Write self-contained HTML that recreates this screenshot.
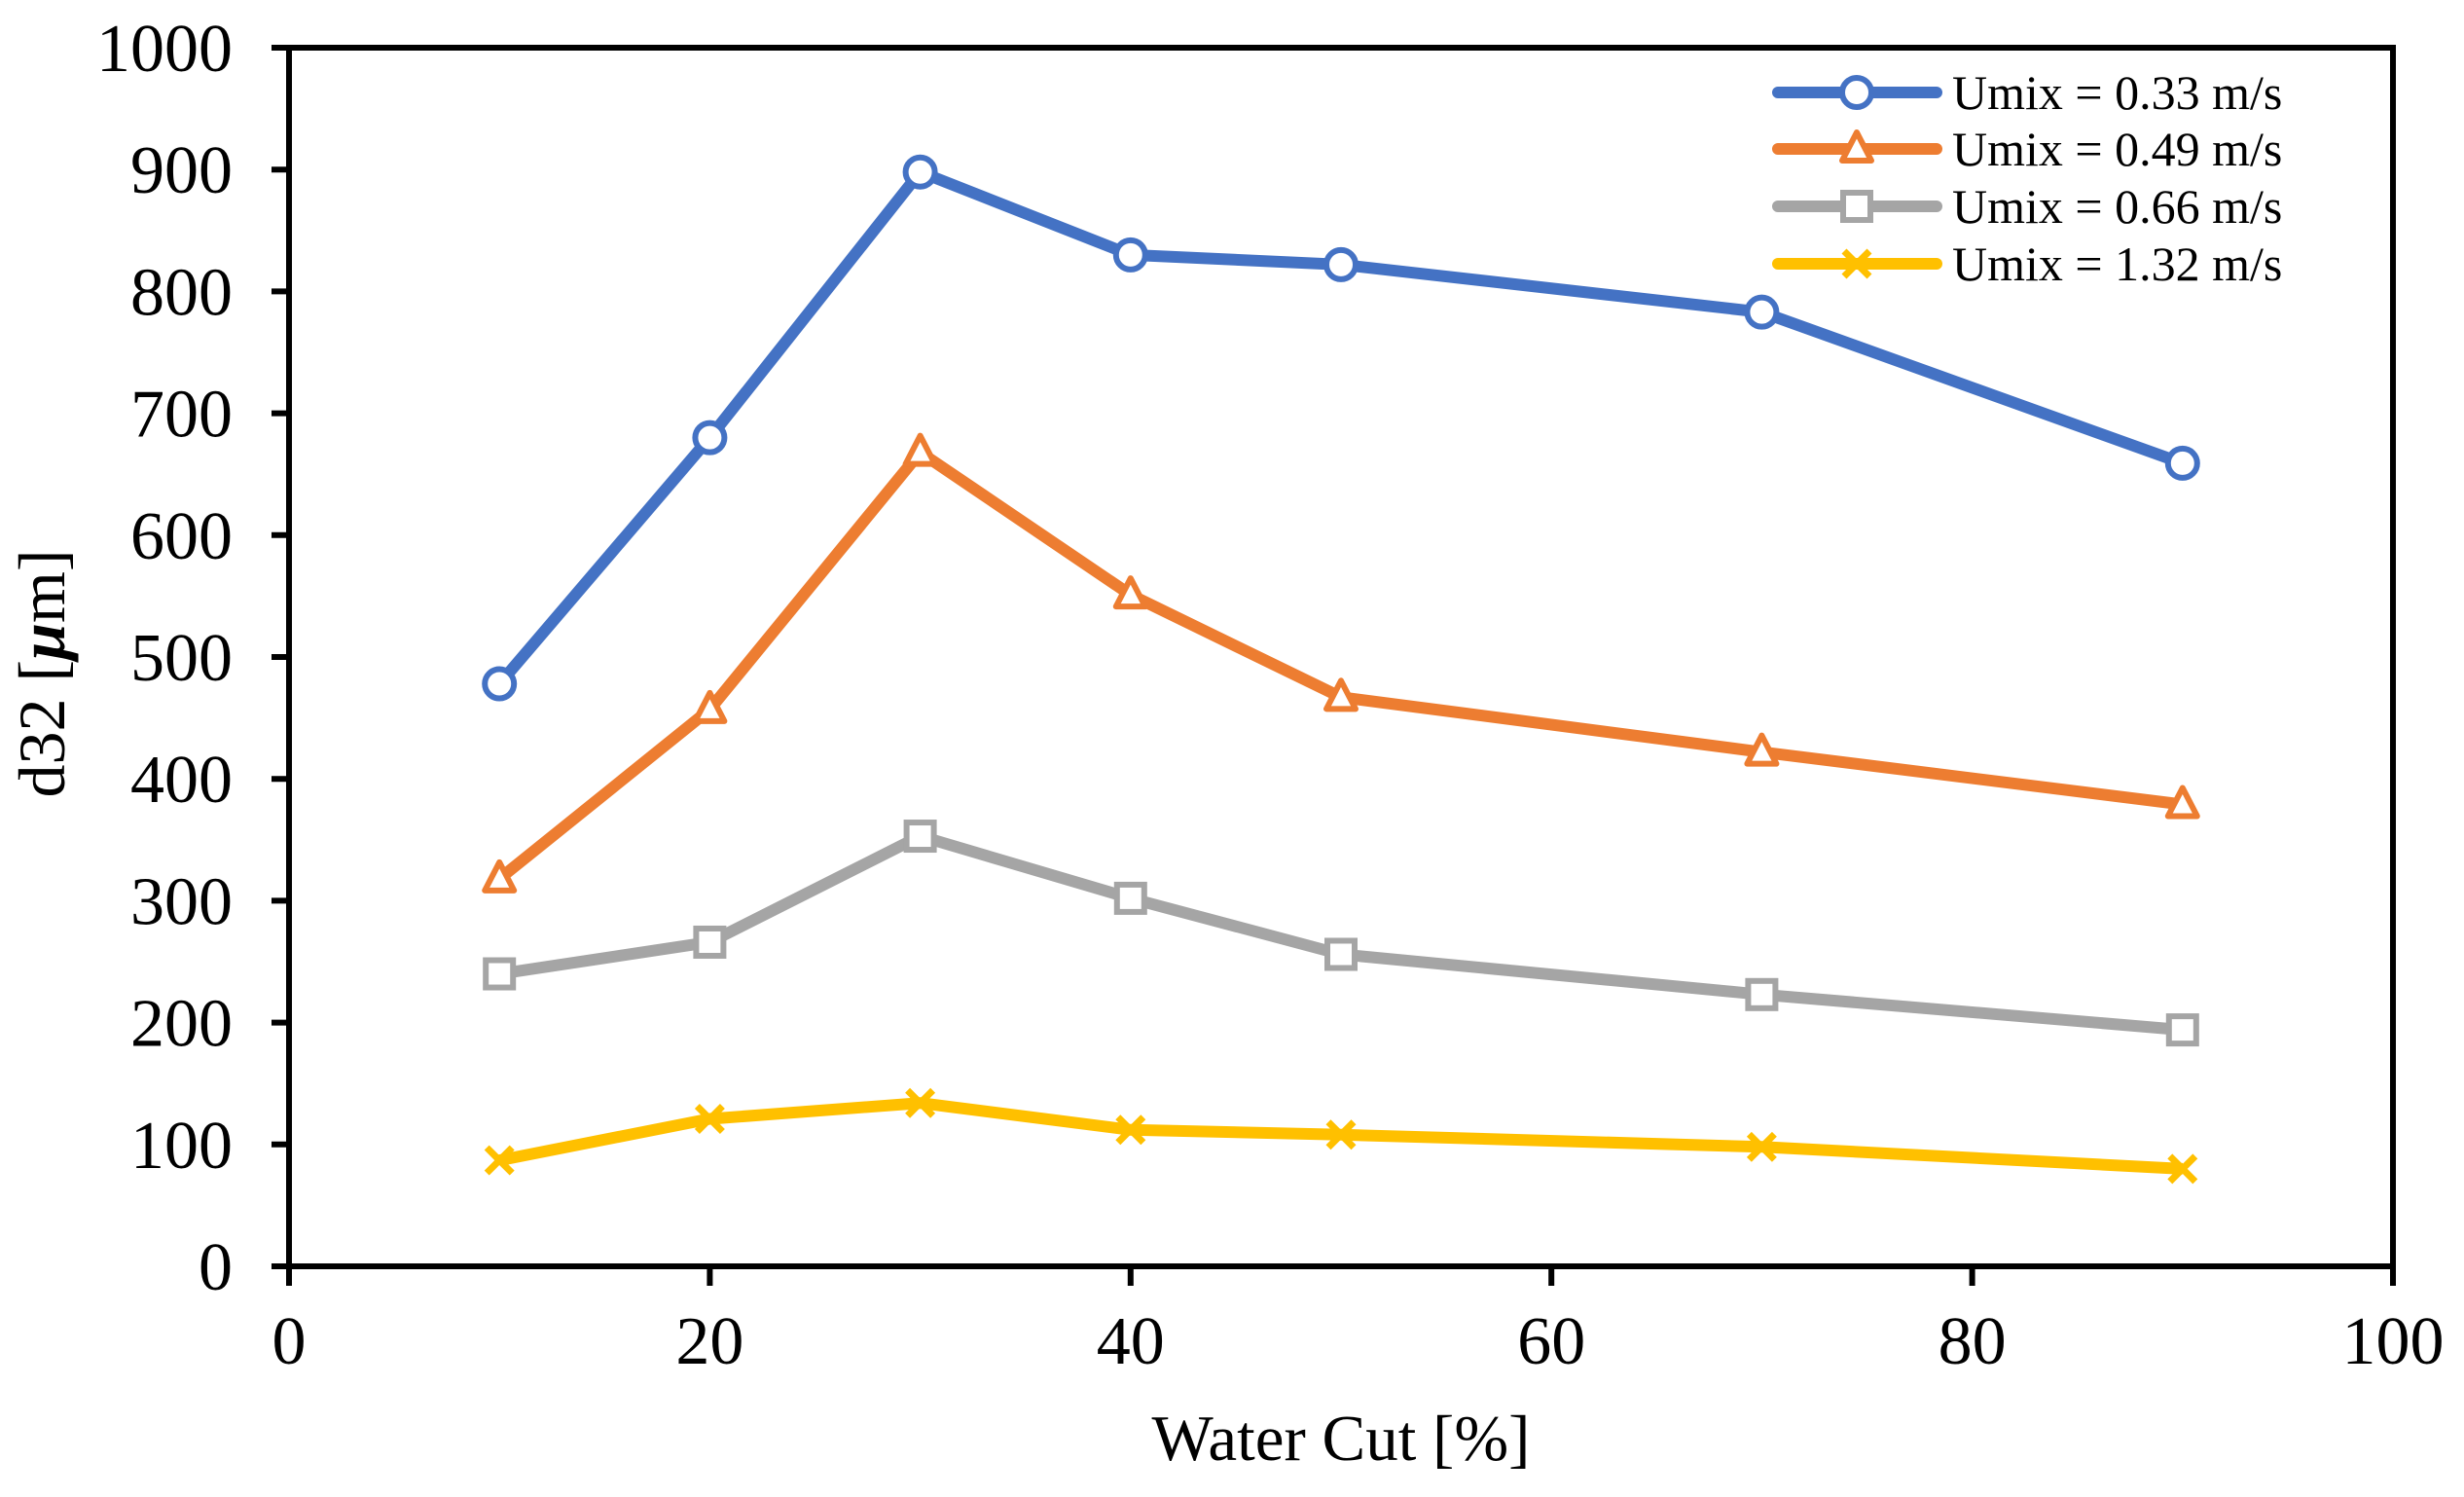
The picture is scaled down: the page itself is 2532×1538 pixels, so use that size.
<!DOCTYPE html>
<html><head><meta charset="utf-8"><style>
html,body{margin:0;padding:0;background:#fff}
svg{display:block}
text{font-family:"Liberation Serif",serif;fill:#000}
</style></head><body>
<svg id="chart" width="2532" height="1538" viewBox="0 0 2532 1538" xmlns="http://www.w3.org/2000/svg">
<g id="grid"></g>
<g id="series"></g>
<g id="legend"></g>
<text transform="translate(66,692) rotate(-90)" text-anchor="middle" font-size="68">d32 [<tspan font-style="italic" font-weight="bold">μ</tspan>m]</text>
<text x="1378" y="1500" text-anchor="middle" font-size="67">Water Cut [%]</text>
</svg>
<script>
const categories = [10, 20, 30, 40, 50, 70, 90];
const seriesNames = ["Umix = 0.33 m/s", "Umix = 0.49 m/s", "Umix = 0.66 m/s", "Umix = 1.32 m/s"];
const s033 = [478, 680, 898, 830, 822, 783, 659];
const s049 = [318, 457, 668, 551, 467, 422, 379];
const s066 = [240, 266, 353, 302, 256, 223, 194];
const s132 = [87, 121, 134, 112, 108, 98, 80];
const xTicks = [0, 20, 40, 60, 80, 100];
const yTicks = [0, 100, 200, 300, 400, 500, 600, 700, 800, 900, 1000];

const NS = "http://www.w3.org/2000/svg";
const L = 297, R = 2459, T = 49, B = 1301;
const xs = v => L + (v - 0) / 100 * (R - L);
const ys = v => B - (v - 0) / 1000 * (B - T);
function mk(tag, attrs, parent) {
  const e = document.createElementNS(NS, tag);
  for (const k in attrs) e.setAttribute(k, attrs[k]);
  parent.appendChild(e);
  return e;
}
const grid = document.getElementById('grid');
const frame = mk('rect', {x: L, y: T, width: R - L, height: B - T, fill: 'none', stroke: '#000', 'stroke-width': 6}, grid);


yTicks.forEach(v => {
  const t = mk('line', {x1: L - 18, x2: L, y1: ys(v), y2: ys(v), stroke: '#000', 'stroke-width': 6}, grid);
  
  
  const lb = mk('text', {x: 239, y: ys(v) + 24, 'text-anchor': 'end', 'font-size': 70}, grid);
  lb.textContent = v;
  
  
});
xTicks.forEach(v => {
  const t = mk('line', {x1: xs(v), x2: xs(v), y1: B, y2: B + 20, stroke: '#000', 'stroke-width': 6}, grid);
  
  
  const lb = mk('text', {x: xs(v), y: 1401, 'text-anchor': 'middle', 'font-size': 70}, grid);
  lb.textContent = v;
  
  
});

const colors = ['#4472C4', '#ED7D31', '#A5A5A5', '#FFC000'];
const markers = ['circle', 'triangle', 'square', 'cross'];
const allSeries = [s033, s049, s066, s132];

function marker(type, cx, cy, color, parent) {
  let e;
  if (type === 'circle') e = mk('circle', {cx, cy, r: 15, fill: '#fff', stroke: color, 'stroke-width': 6}, parent);
  else if (type === 'triangle') e = mk('polygon', {points: `${cx},${cy-17} ${cx+15},${cy+12} ${cx-15},${cy+12}`, fill: '#fff', stroke: color, 'stroke-width': 6, 'stroke-linejoin': 'round'}, parent);
  else if (type === 'square') e = mk('rect', {x: cx - 14, y: cy - 14, width: 28, height: 28, fill: '#fff', stroke: color, 'stroke-width': 6}, parent);
  else e = mk('path', {d: `M${cx-13},${cy-13}L${cx+13},${cy+13}M${cx+13},${cy-13}L${cx-13},${cy+13}`, stroke: color, 'stroke-width': 7, fill: 'none'}, parent);
  return e;
}

const sg = document.getElementById('series');
allSeries.forEach((vals, i) => {
  const g = mk('g', {}, sg);
  
  
  const pts = vals.map((v, j) => xs(categories[j]) + ',' + ys(v)).join(' ');
  const pl = mk('polyline', {points: pts, fill: 'none', stroke: colors[i], 'stroke-width': 12, 'stroke-linejoin': 'round'}, g);
  
  
  vals.forEach((v, j) => {
    const m = marker(markers[i], xs(categories[j]), ys(v), colors[i], g);
    
    
  });
});

const lg = document.getElementById('legend');
const rowsY = [95, 153, 212, 271];
seriesNames.forEach((n, i) => {
  const g = mk('g', {}, lg);
  
  
  const y = rowsY[i];
  mk('line', {x1: 1827, x2: 1990, y1: y, y2: y, stroke: colors[i], 'stroke-width': 12, 'stroke-linecap': 'round'}, g);
  marker(markers[i], 1908, y, colors[i], g);
  const t = mk('text', {x: 2006, y: y + 17, 'font-size': 50}, g);
  t.textContent = n;
});
</script>
</body></html>
